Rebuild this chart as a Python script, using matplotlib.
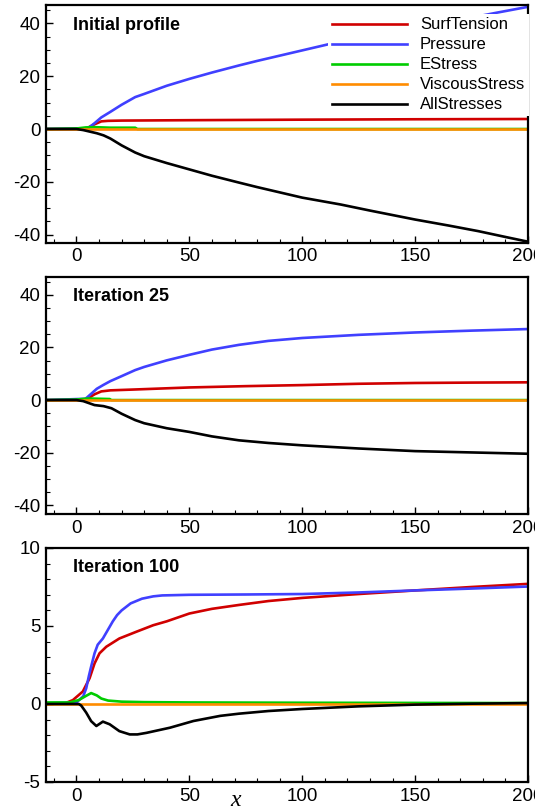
import numpy as np
import matplotlib
matplotlib.use('Agg')
import matplotlib.pyplot as plt
from matplotlib.ticker import MultipleLocator

plt.rcParams['font.family'] = ['Liberation Sans', 'DejaVu Sans']
plt.rcParams['axes.unicode_minus'] = False

labels = ['SurfTension', 'Pressure', 'EStress', 'ViscousStress', 'AllStresses']
colors = ['#d00000', '#4040ff', '#00cc00', '#ff8c00', '#000000']
titles = ['Initial profile', 'Iteration 25', 'Iteration 100']

# ---- Initial profile ----
x_st1 = [-13, 2, 5, 8, 11, 14, 20, 50, 100, 150, 200]
st1 = [0, 0, 0.5, 1.8, 2.9, 3.1, 3.2, 3.35, 3.55, 3.7, 3.8]
x_pr1 = [-13, 5, 8, 11, 15, 20, 26, 30, 40, 50, 60, 72, 80, 90, 100, 113, 130, 150, 170, 185, 200]
pr1 = [0, 0.2, 2.2, 4.4, 6.5, 9.2, 12.1, 13.3, 16.4, 19.0, 21.4, 24.1, 25.8, 27.8, 29.8, 32.4, 35.3, 38.5, 41.4, 43.9, 46.3]
x_es1 = [-13, 0, 4, 8, 15, 26, 27, 200]
es1 = [0, 0.2, 0.6, 0.7, 0.5, 0.5, 0, 0]
x_vs1 = [-13, 200]
vs1 = [0, 0]
x_al1 = [-13, 0, 3, 6, 9, 12, 15, 20, 26, 30, 40, 50, 60, 72, 80, 90, 100, 117, 130, 150, 165, 178, 190, 200]
al1 = [0, 0, -0.4, -1.0, -1.6, -2.4, -3.6, -6.2, -8.9, -10.3, -12.9, -15.3, -17.7, -20.3, -22.0, -24.0,
       -26.0, -28.6, -30.9, -34.3, -36.6, -38.7, -40.9, -42.7]

# ---- Iteration 25 ----
x_st2 = [-13, 2, 5, 8, 11, 15, 25, 50, 75, 100, 125, 150, 175, 200]
st2 = [0, 0, 0.6, 2.2, 3.3, 3.7, 4.0, 4.8, 5.3, 5.7, 6.2, 6.5, 6.65, 6.75]
x_pr2 = [-13, 4, 6, 9, 12, 15, 20, 26, 30, 40, 50, 60, 72, 85, 100, 125, 150, 175, 200]
pr2 = [0, 0.5, 2.0, 4.3, 5.8, 7.2, 9.1, 11.4, 12.6, 15.1, 17.2, 19.2, 21.0, 22.5, 23.6, 24.8, 25.7, 26.4, 27.0]
x_es2 = [-13, 0, 5, 10, 14.7, 15.5, 200]
es2 = [0, 0.2, 0.6, 0.5, 0.4, 0, 0]
x_vs2 = [-13, 200]
vs2 = [0, 0]
x_al2 = [-13, 0, 3, 6, 8, 12, 15.5, 20, 26, 30, 40, 50, 60, 72, 85, 100, 125, 150, 175, 200]
al2 = [0, 0, -0.4, -1.3, -1.9, -2.3, -3.1, -5.2, -7.6, -8.8, -10.7, -12.1, -13.8, -15.3, -16.3, -17.2,
       -18.4, -19.4, -19.9, -20.4]

# ---- Iteration 100 ----
x_st3 = [-13, -5, -1.6, 2.8, 5.8, 8, 10.2, 13.2, 19, 26.5, 34, 40, 50, 60, 72, 85, 100, 125, 150, 175, 200]
st3 = [0, 0.05, 0.25, 0.8, 1.65, 2.6, 3.25, 3.67, 4.2, 4.63, 5.05, 5.3, 5.8, 6.1, 6.35, 6.6, 6.8, 7.05,
       7.28, 7.5, 7.7]
x_pr3 = [-13, 0, 3, 4.3, 5.5, 6.5, 8, 9.4, 11.7, 13.9, 16.1, 18, 20, 24, 29, 34, 38, 50, 75, 100, 125,
         150, 175, 200]
pr3 = [0.05, 0.1, 0.5, 1.0, 1.8, 2.4, 3.25, 3.8, 4.2, 4.75, 5.3, 5.7, 6.0, 6.45, 6.75, 6.9, 6.96, 7.0,
       7.02, 7.05, 7.15, 7.28, 7.4, 7.53]
x_es3 = [-13, -3, 1, 4, 6.5, 9, 11, 14, 20, 30, 50, 100, 150, 200]
es3 = [0.1, 0.1, 0.25, 0.5, 0.7, 0.55, 0.35, 0.22, 0.15, 0.12, 0.1, 0.08, 0.07, 0.06]
x_vs3 = [-13, 200]
vs3 = [0, 0]
x_al3 = [-13, 1, 2.1, 4.3, 6.5, 8.8, 11.7, 14.7, 19, 23.6, 27, 31, 41.4, 51.8, 63.7, 72, 85, 100, 125,
         150, 175, 200]
al3 = [0, 0, -0.1, -0.55, -1.1, -1.41, -1.13, -1.3, -1.74, -1.95, -1.95, -1.85, -1.52, -1.09, -0.76,
       -0.62, -0.45, -0.32, -0.15, -0.04, 0.02, 0.06]

panels = [
    [(x_st1, st1), (x_pr1, pr1), (x_es1, es1), (x_vs1, vs1), (x_al1, al1)],
    [(x_st2, st2), (x_pr2, pr2), (x_es2, es2), (x_vs2, vs2), (x_al2, al2)],
    [(x_st3, st3), (x_pr3, pr3), (x_es3, es3), (x_vs3, vs3), (x_al3, al3)],
]
ylims = [(-43, 47), (-43.3, 46.9), (-5, 10)]
ymajor = [20, 20, 5]
yminor = [5, 5, 1]

fig = plt.figure(figsize=(5.35, 8.09), dpi=100)
# axes boxes measured in reference pixels (left, top, right, bottom)
boxes = [(46, 5, 528, 242.5), (46, 276.7, 528, 514), (46, 548, 528, 782)]

for k, (l, t, r, b) in enumerate(boxes):
    ax = fig.add_axes((l / 535, 1 - b / 809, (r - l) / 535, (b - t) / 809))
    for (xs, ys), lab, c in zip(panels[k], labels, colors):
        ax.plot(xs, ys, color=c, lw=1.9, label=lab, solid_joinstyle='round')
    ax.set_xlim(-13.5, 200)
    ax.set_ylim(*ylims[k])
    ax.xaxis.set_major_locator(MultipleLocator(50))
    ax.xaxis.set_minor_locator(MultipleLocator(10))
    ax.yaxis.set_major_locator(MultipleLocator(ymajor[k]))
    ax.yaxis.set_minor_locator(MultipleLocator(yminor[k]))
    ax.tick_params(which='both', direction='in', top=False, right=False, labelsize=13.5, pad=4)
    ax.tick_params(which='major', length=5, width=1)
    ax.tick_params(which='minor', length=3, width=0.8)
    for sp in ax.spines.values():
        sp.set_linewidth(1.6)
    ax.text(0.057, 0.915, titles[k], transform=ax.transAxes, fontsize=13,
            fontweight='bold', ha='left', va='center')
    if k == 0:
        ax.legend(loc='upper left', bbox_to_anchor=(0.586, 0.962), fontsize=12,
                  frameon=True, fancybox=False, framealpha=1, edgecolor='none',
                  facecolor='white', borderaxespad=0, borderpad=0.2,
                  handlelength=4.5, handletextpad=0.8, labelspacing=0.3)

fig.text(236 / 535, 1 - 800 / 809, 'x', fontsize=17, fontstyle='italic',
         family='Liberation Serif', ha='center', va='center')

fig.savefig('out.png', dpi=100)
